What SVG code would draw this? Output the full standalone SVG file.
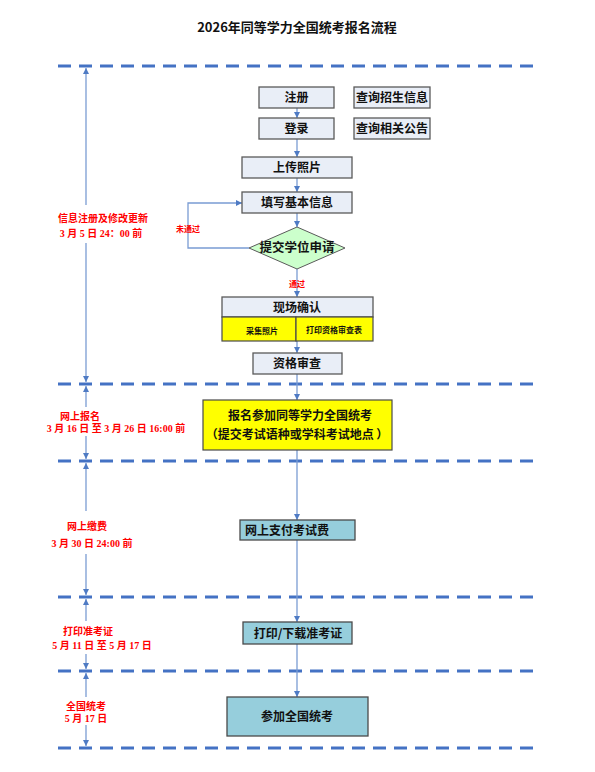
<svg xmlns="http://www.w3.org/2000/svg" width="595" height="772" viewBox="0 0 595 772">
<style>
.bg{fill:#fff}
.box{fill:#E9EEF7;stroke:#5a5a5a;stroke-width:1.3}
.teal{fill:#96CEDC;stroke:#4a4a4a;stroke-width:1.3}
.yel{fill:#FFFF00;stroke:#4a4a4a;stroke-width:1.2}
.t{font-family:"Noto Sans CJK SC","Liberation Sans",sans-serif;font-weight:bold;font-size:12px;fill:#111;text-anchor:middle}
.ts{font-family:"Noto Sans CJK SC","Liberation Sans",sans-serif;font-weight:bold;font-size:8px;fill:#111;text-anchor:middle}
.r{font-family:"Noto Sans CJK SC","Liberation Sans",sans-serif;font-weight:bold;font-size:10px;fill:#FF0000;text-anchor:middle}
.rd{font-family:"Liberation Serif","Noto Sans CJK SC",serif;font-weight:bold;font-size:10px;fill:#FF0000;text-anchor:middle}
.rs{font-family:"Noto Sans CJK SC","Liberation Sans",sans-serif;font-weight:bold;font-size:8px;fill:#FF0000;text-anchor:middle}
.dash{stroke:#4472C4;stroke-width:3;stroke-dasharray:13 8;fill:none}
.con{stroke:#7A9CD3;stroke-width:1.3;fill:none}
</style>
<defs>
<marker id="ah" viewBox="0 0 10 10" refX="10" refY="5" markerWidth="6" markerHeight="6" orient="auto-start-reverse" markerUnits="userSpaceOnUse">
<path d="M0,0 L10,5 L0,10 z" fill="#4F7BC4"/>
</marker>
</defs>
<rect class="bg" width="595" height="772"/>
<text x="297" y="32" class="t" style="font-size:13px">2026年同等学力全国统考报名流程</text>

<g id="dashes">
<line class="dash" x1="58" y1="66" x2="535" y2="66"/>
<line class="dash" x1="58" y1="384" x2="535" y2="384"/>
<line class="dash" x1="58" y1="461" x2="535" y2="461"/>
<line class="dash" x1="58" y1="597" x2="535" y2="597"/>
<line class="dash" x1="58" y1="671" x2="535" y2="671"/>
<line class="dash" x1="58" y1="748" x2="535" y2="748"/>
</g>

<g id="connectors">
<line class="con" x1="297" y1="108" x2="297" y2="118" marker-end="url(#ah)"/>
<line class="con" x1="297" y1="139" x2="297" y2="157" marker-end="url(#ah)"/>
<line class="con" x1="297" y1="178" x2="297" y2="192" marker-end="url(#ah)"/>
<line class="con" x1="297" y1="213" x2="297" y2="227" marker-end="url(#ah)"/>
<polyline class="con" points="249,248 188,248 188,203 242,203" marker-end="url(#ah)"/>
<line class="con" x1="297" y1="269" x2="297" y2="297" marker-end="url(#ah)"/>
<line class="con" x1="297" y1="341" x2="297" y2="353" marker-end="url(#ah)"/>
<line class="con" x1="297" y1="374" x2="297" y2="400" marker-end="url(#ah)"/>
<line class="con" x1="297" y1="450" x2="297" y2="520" marker-end="url(#ah)"/>
<line class="con" x1="297" y1="540" x2="297" y2="622" marker-end="url(#ah)"/>
<line class="con" x1="297" y1="644" x2="297" y2="697" marker-end="url(#ah)"/>
<line class="con" x1="86" y1="205" x2="86" y2="68" marker-end="url(#ah)"/>
<line class="con" x1="86" y1="243" x2="86" y2="382" marker-end="url(#ah)"/>
<line class="con" x1="86" y1="407" x2="86" y2="386" marker-end="url(#ah)"/>
<line class="con" x1="86" y1="436" x2="86" y2="459" marker-end="url(#ah)"/>
<line class="con" x1="86" y1="511" x2="86" y2="463" marker-end="url(#ah)"/>
<line class="con" x1="86" y1="554" x2="86" y2="595" marker-end="url(#ah)"/>
<line class="con" x1="86" y1="621" x2="86" y2="599" marker-end="url(#ah)"/>
<line class="con" x1="86" y1="654" x2="86" y2="669" marker-end="url(#ah)"/>
<line class="con" x1="86" y1="697" x2="86" y2="673" marker-end="url(#ah)"/>
<line class="con" x1="86" y1="725" x2="86" y2="746" marker-end="url(#ah)"/>
</g>

<g id="n-zhuce"><rect class="box" x="259" y="87" width="75" height="21"/><text class="t" x="296.5" y="102">注册</text></g>
<g id="n-cxzs"><rect class="box" x="354" y="87" width="76" height="21"/><text class="t" x="392" y="102">查询招生信息</text></g>
<g id="n-denglu"><rect class="box" x="259" y="118" width="75" height="21"/><text class="t" x="296.5" y="133">登录</text></g>
<g id="n-cxgg"><rect class="box" x="354" y="118" width="76" height="21"/><text class="t" x="392" y="133">查询相关公告</text></g>
<g id="n-sczp"><rect class="box" x="242" y="157" width="110" height="21"/><text class="t" x="297" y="172">上传照片</text></g>
<g id="n-txjb"><rect class="box" x="242" y="192" width="110" height="21"/><text class="t" x="297" y="207">填写基本信息</text></g>
<g id="n-tjxw"><polygon points="297,227 345,248 297,269 249,248" fill="#CCFFCC" stroke="#5a5a5a" stroke-width="1"/><text class="t" x="297" y="252" style="font-size:12.5px">提交学位申请</text></g>
<text class="rs" x="188" y="232">未通过</text>
<text class="rs" x="297" y="287">通过</text>
<g id="n-xcqr">
<rect class="box" x="222" y="297" width="151" height="20"/><text class="t" x="297" y="312">现场确认</text>
<rect class="yel" x="222" y="317" width="74" height="24"/><text class="ts" x="262" y="334">采集照片</text>
<rect class="yel" x="296" y="317" width="77" height="24"/><text class="ts" x="334" y="333">打印资格审查表</text>
</g>
<g id="n-zgsc"><rect class="box" x="253" y="353" width="89" height="21"/><text class="t" x="297" y="368">资格审查</text></g>
<g id="n-bm"><rect class="yel" x="203" y="400" width="189" height="50"/><text class="t" x="300" y="420">报名参加同等学力全国统考</text><text class="t" x="297" y="439">（提交考试语种或学科考试地点 ）</text></g>
<g id="n-zf"><rect class="teal" x="240" y="520" width="115" height="20"/><text class="t" x="245" y="535" style="text-anchor:start">网上支付考试费</text></g>
<g id="n-dy"><rect class="teal" x="243" y="622" width="109" height="22"/><text class="t" x="298" y="638">打印/下载准考证</text></g>
<g id="n-tk"><rect class="teal" x="227" y="697" width="141" height="39"/><text class="t" x="297" y="721">参加全国统考</text></g>

<g id="labels">
<text class="r" x="103" y="222">信息注册及修改更新</text>
<text class="rd" x="101" y="237">3 月 5 日 24：00 前</text>
<text class="r" x="80" y="420">网上报名</text>
<text class="rd" x="116" y="432">3 月 16 日  至 3 月 26 日 16:00 前</text>
<text class="r" x="87" y="530">网上缴费</text>
<text class="rd" x="92" y="547">3 月 30 日 24:00 前</text>
<text class="r" x="88" y="635">打印准考证</text>
<text class="rd" x="102" y="649">5 月 11 日 至 5 月 17 日</text>
<text class="r" x="86" y="710">全国统考</text>
<text class="rd" x="86" y="722">5 月 17 日</text>
</g>
</svg>
